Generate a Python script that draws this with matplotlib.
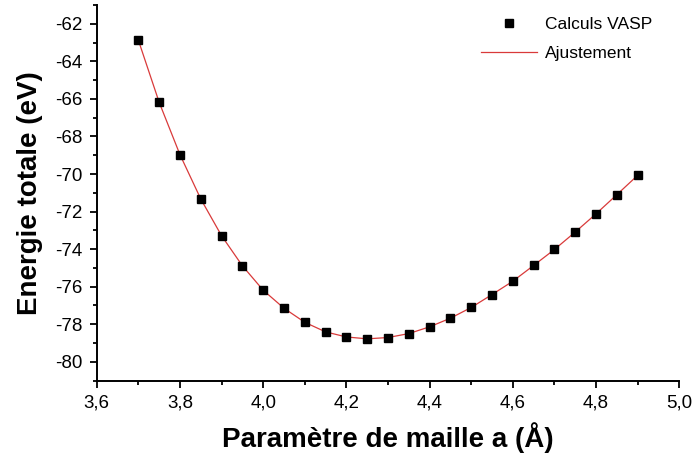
import numpy as np
import matplotlib.pyplot as plt
from matplotlib.ticker import MultipleLocator, FuncFormatter

# Paramètre de maille (Å) et énergies totales VASP (eV)
a_param = [3.70, 3.75, 3.80, 3.85, 3.90, 3.95, 4.00, 4.05, 4.10, 4.15, 4.20, 4.25, 4.30,
           4.35, 4.40, 4.45, 4.50, 4.55, 4.60, 4.65, 4.70, 4.75, 4.80, 4.85, 4.90]
energie = [-62.87, -66.18, -68.97, -71.33, -73.29, -74.89, -76.19, -77.15, -77.90, -78.41,
           -78.68, -78.78, -78.71, -78.50, -78.14, -77.68, -77.11, -76.42, -75.71, -74.87,
           -74.02, -73.09, -72.12, -71.10, -70.07]

plt.rcParams['font.family'] = ['Liberation Sans', 'DejaVu Sans']

fig = plt.figure(figsize=(6.96, 4.59), dpi=100)
ax = fig.add_axes([0.139, 0.171, 0.837, 0.818])

ax.plot(a_param, energie, color='#d93a3a', lw=0.9, label='Ajustement', zorder=2)
ax.plot(a_param, energie, ls='none', marker='s', ms=5.5, color='black',
        label='Calculs VASP', zorder=3)

ax.set_xlim(3.6, 5.0)
ax.set_ylim(-81, -61)

ax.xaxis.set_major_locator(MultipleLocator(0.2))
ax.xaxis.set_minor_locator(MultipleLocator(0.1))
ax.yaxis.set_major_locator(MultipleLocator(2))
ax.yaxis.set_minor_locator(MultipleLocator(1))
ax.xaxis.set_major_formatter(FuncFormatter(lambda v, p: f'{v:.1f}'.replace('.', ',')))
ax.yaxis.set_major_formatter(FuncFormatter(lambda v, p: f'{v:.0f}'))

ax.tick_params(which='both', direction='out', width=1.3, labelsize=13.5, colors='black')
ax.tick_params(which='major', length=5, pad=5)
ax.tick_params(which='minor', length=3)

for s in ['top', 'right']:
    ax.spines[s].set_visible(False)
for s in ['left', 'bottom']:
    ax.spines[s].set_linewidth(1.4)

ax.set_xlabel('Paramètre de maille a (Å)', fontsize=20, fontweight='bold', labelpad=8)
ax.set_ylabel('Energie totale (eV)', fontsize=20, fontweight='bold', labelpad=9)

handles, labels = ax.get_legend_handles_labels()
ax.legend(handles[::-1], labels[::-1], loc='upper right', frameon=False, fontsize=12.5,
          handlelength=3.2, handletextpad=0.5, labelspacing=0.8, borderaxespad=0.3,
          bbox_to_anchor=(0.975, 1.0))

fig.savefig('out.png', dpi=100)
